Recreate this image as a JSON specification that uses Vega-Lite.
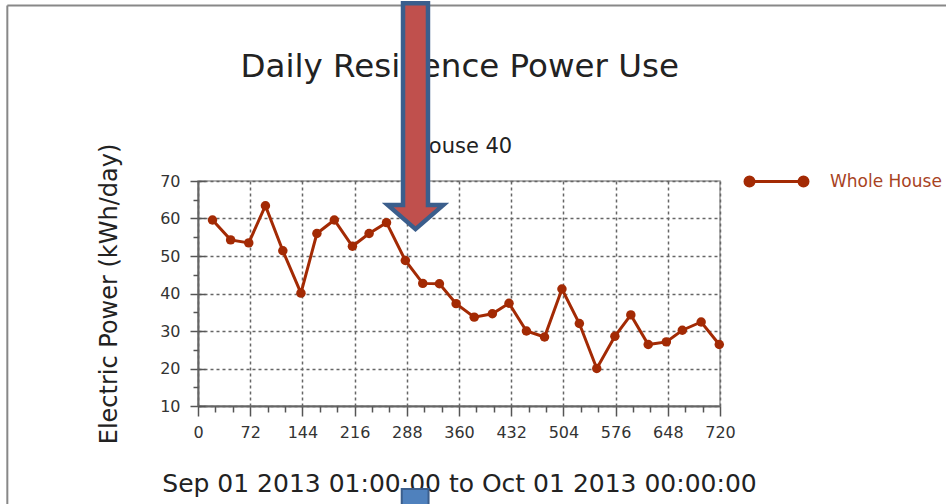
{
  "$schema": "https://vega.github.io/schema/vega-lite/v6.json",
  "autosize": {"type": "none"},
  "width": 522,
  "height": 225,
  "padding": {"left": 198, "top": 181, "right": 226, "bottom": 98},
  "background": "white",
  "config": {
    "view": {"stroke": "#999", "strokeWidth": 1.5},
    "font": "DejaVu Sans"
  },
  "data": {
    "values": [
      {"hour": 20, "kwh": 59.6, "series": "Whole House"},
      {"hour": 45, "kwh": 54.3, "series": "Whole House"},
      {"hour": 70, "kwh": 53.5, "series": "Whole House"},
      {"hour": 93, "kwh": 63.4, "series": "Whole House"},
      {"hour": 117, "kwh": 51.4, "series": "Whole House"},
      {"hour": 142, "kwh": 40.1, "series": "Whole House"},
      {"hour": 164, "kwh": 56.0, "series": "Whole House"},
      {"hour": 188, "kwh": 59.6, "series": "Whole House"},
      {"hour": 213, "kwh": 52.6, "series": "Whole House"},
      {"hour": 236, "kwh": 56.0, "series": "Whole House"},
      {"hour": 260, "kwh": 58.9, "series": "Whole House"},
      {"hour": 286, "kwh": 48.8, "series": "Whole House"},
      {"hour": 310, "kwh": 42.7, "series": "Whole House"},
      {"hour": 333, "kwh": 42.6, "series": "Whole House"},
      {"hour": 356, "kwh": 37.3, "series": "Whole House"},
      {"hour": 381, "kwh": 33.7, "series": "Whole House"},
      {"hour": 406, "kwh": 34.6, "series": "Whole House"},
      {"hour": 429, "kwh": 37.4, "series": "Whole House"},
      {"hour": 453, "kwh": 30.0, "series": "Whole House"},
      {"hour": 478, "kwh": 28.4, "series": "Whole House"},
      {"hour": 502, "kwh": 41.2, "series": "Whole House"},
      {"hour": 526, "kwh": 32.0, "series": "Whole House"},
      {"hour": 550, "kwh": 20.0, "series": "Whole House"},
      {"hour": 575, "kwh": 28.6, "series": "Whole House"},
      {"hour": 597, "kwh": 34.3, "series": "Whole House"},
      {"hour": 621, "kwh": 26.4, "series": "Whole House"},
      {"hour": 646, "kwh": 27.1, "series": "Whole House"},
      {"hour": 668, "kwh": 30.2, "series": "Whole House"},
      {"hour": 694, "kwh": 32.4, "series": "Whole House"},
      {"hour": 719, "kwh": 26.4, "series": "Whole House"}
    ]
  },
  "resolve": {"axis": {"x": "independent", "y": "independent"}},
  "layer": [
    {
      "mark": {"type": "line", "point": {"filled": true, "size": 90}, "strokeWidth": 3},
      "encoding": {
        "x": {
          "field": "hour", "type": "quantitative",
          "scale": {"domain": [0, 720], "nice": false, "zero": false},
          "axis": {
            "orient": "bottom",
            "values": [0, 72, 144, 216, 288, 360, 432, 504, 576, 648, 720],
            "title": "Sep 01 2013 01:00:00 to Oct 01 2013 00:00:00",
            "titleFont": "DejaVu Sans", "titleFontSize": 25, "titleFontWeight": "normal", "titleColor": "#222",
            "titlePadding": 31,
            "labelFont": "DejaVu Sans", "labelFontSize": 16, "labelColor": "#333", "labelPadding": 8,
            "labelFlush": false, "labelOverlap": false,
            "tickSize": 10, "tickColor": "#555", "tickWidth": 1.5,
            "domainColor": "#666", "domainWidth": 2,
            "grid": true, "gridDash": [3, 3], "gridColor": "#666", "gridWidth": 1.5
          }
        },
        "y": {
          "field": "kwh", "type": "quantitative",
          "scale": {"domain": [10, 70], "nice": false, "zero": false},
          "axis": {
            "orient": "left",
            "values": [10, 20, 30, 40, 50, 60, 70],
            "title": "Electric Power (kWh/day)",
            "titleFont": "DejaVu Sans", "titleFontSize": 24, "titleFontWeight": "normal", "titleColor": "#222",
            "titlePadding": 38,
            "labelFont": "DejaVu Sans", "labelFontSize": 16, "labelColor": "#333", "labelPadding": 10,
            "labelFlush": false,
            "tickSize": 8, "tickColor": "#555", "tickWidth": 1.5,
            "domainColor": "#666", "domainWidth": 2,
            "grid": true, "gridDash": [3, 3], "gridColor": "#666", "gridWidth": 1.5
          }
        },
        "color": {
          "field": "series", "type": "nominal",
          "scale": {"range": ["#a32a04"]},
          "legend": {
            "title": null,
            "orient": "none",
            "legendX": 547,
            "legendY": -31,
            "padding": 0,
            "symbolType": "M-0.9,0 L0.9,0 M-1.05,0 A0.15,0.15 0 1 0 -0.75,0 A0.15,0.15 0 1 0 -1.05,0 Z M0.75,0 A0.15,0.15 0 1 0 1.05,0 A0.15,0.15 0 1 0 0.75,0 Z",
            "symbolSize": 3600,
            "symbolStrokeWidth": 3,
            "labelFont": "DejaVu Sans", "labelFontSize": 17, "labelColor": "#a8431f", "labelOffset": 22,
            "encode": {"symbols": {"update": {"fill": {"value": "#a32a04"}, "stroke": {"value": "#a32a04"}, "opacity": {"value": 1}}}}
          }
        }
      }
    },
    {
      "mark": {"type": "point", "opacity": 0},
      "encoding": {
        "x": {
          "field": "hour", "type": "quantitative",
          "axis": {
            "orient": "bottom", "title": null, "labels": false, "domain": false, "grid": false,
            "values": [24, 48, 96, 120, 168, 192, 240, 264, 312, 336, 384, 408, 456, 480, 528, 552, 600, 624, 672, 696],
            "tickSize": 6, "tickColor": "#555", "tickWidth": 1.5
          }
        },
        "y": {
          "field": "kwh", "type": "quantitative",
          "axis": {
            "orient": "left", "title": null, "labels": false, "domain": false, "grid": false,
            "values": [15, 25, 35, 45, 55, 65],
            "tickSize": 5, "tickColor": "#555", "tickWidth": 1.5
          }
        }
      }
    },
    {
      "mark": {"type": "point", "opacity": 0},
      "encoding": {
        "x": {"field": "hour", "type": "quantitative", "axis": null},
        "y": {
          "field": "kwh", "type": "quantitative",
          "axis": {
            "orient": "left", "title": null, "labels": false, "domain": false, "grid": false,
            "values": [10, 20, 30, 40, 50, 60, 70],
            "tickSize": -7, "tickColor": "#555", "tickWidth": 1.5
          }
        }
      }
    },
    {
      "data": {"values": [{}]},
      "mark": {"type": "text", "text": "Daily Residence Power Use", "font": "DejaVu Sans", "fontSize": 32.5, "color": "#222", "align": "center", "baseline": "alphabetic", "clip": false},
      "encoding": {
        "x": {"datum": 361, "axis": null},
        "y": {"datum": 97.8, "axis": null}
      }
    },
    {
      "data": {"values": [{}]},
      "mark": {"type": "text", "text": "House 40", "font": "DejaVu Sans", "fontSize": 21, "color": "#222", "align": "center", "baseline": "alphabetic", "clip": false},
      "encoding": {
        "x": {"datum": 365, "axis": null},
        "y": {"datum": 77.6, "axis": null}
      }
    },
    {
      "data": {"values": [{}]},
      "mark": {"type": "rule", "color": "#888", "strokeWidth": 2, "clip": false},
      "encoding": {
        "x": {"datum": -263, "axis": null},
        "x2": {"datum": 1100},
        "y": {"datum": 116.8, "axis": null}
      }
    },
    {
      "data": {"values": [{}]},
      "mark": {"type": "rule", "color": "#888", "strokeWidth": 2, "clip": false},
      "encoding": {
        "x": {"datum": -263, "axis": null},
        "y": {"datum": 116.8, "axis": null},
        "y2": {"datum": -40}
      }
    },
    {
      "data": {"values": [{}]},
      "mark": {
        "type": "point",
        "shape": "M-0.104,-0.954 L0.104,-0.954 L0.104,0.729 L0.231,0.729 L0,0.929 L-0.231,0.729 L-0.104,0.729 Z",
        "size": 57600,
        "filled": true,
        "fill": "#c0504d",
        "stroke": "#3b5e8c",
        "strokeWidth": 4.5,
        "opacity": 1,
        "fillOpacity": 1,
        "strokeOpacity": 1,
        "clip": false
      },
      "encoding": {
        "x": {"datum": 300, "axis": null},
        "y": {"datum": 86.9, "axis": null}
      }
    },
    {
      "data": {"values": [{}]},
      "mark": {"type": "rect", "fill": "#4f81bd", "stroke": "#3b5e8c", "strokeWidth": 2, "clip": false},
      "encoding": {
        "x": {"datum": 281, "axis": null},
        "x2": {"datum": 318},
        "y": {"datum": -12.1, "axis": null},
        "y2": {"datum": -25}
      }
    }
  ]
}
